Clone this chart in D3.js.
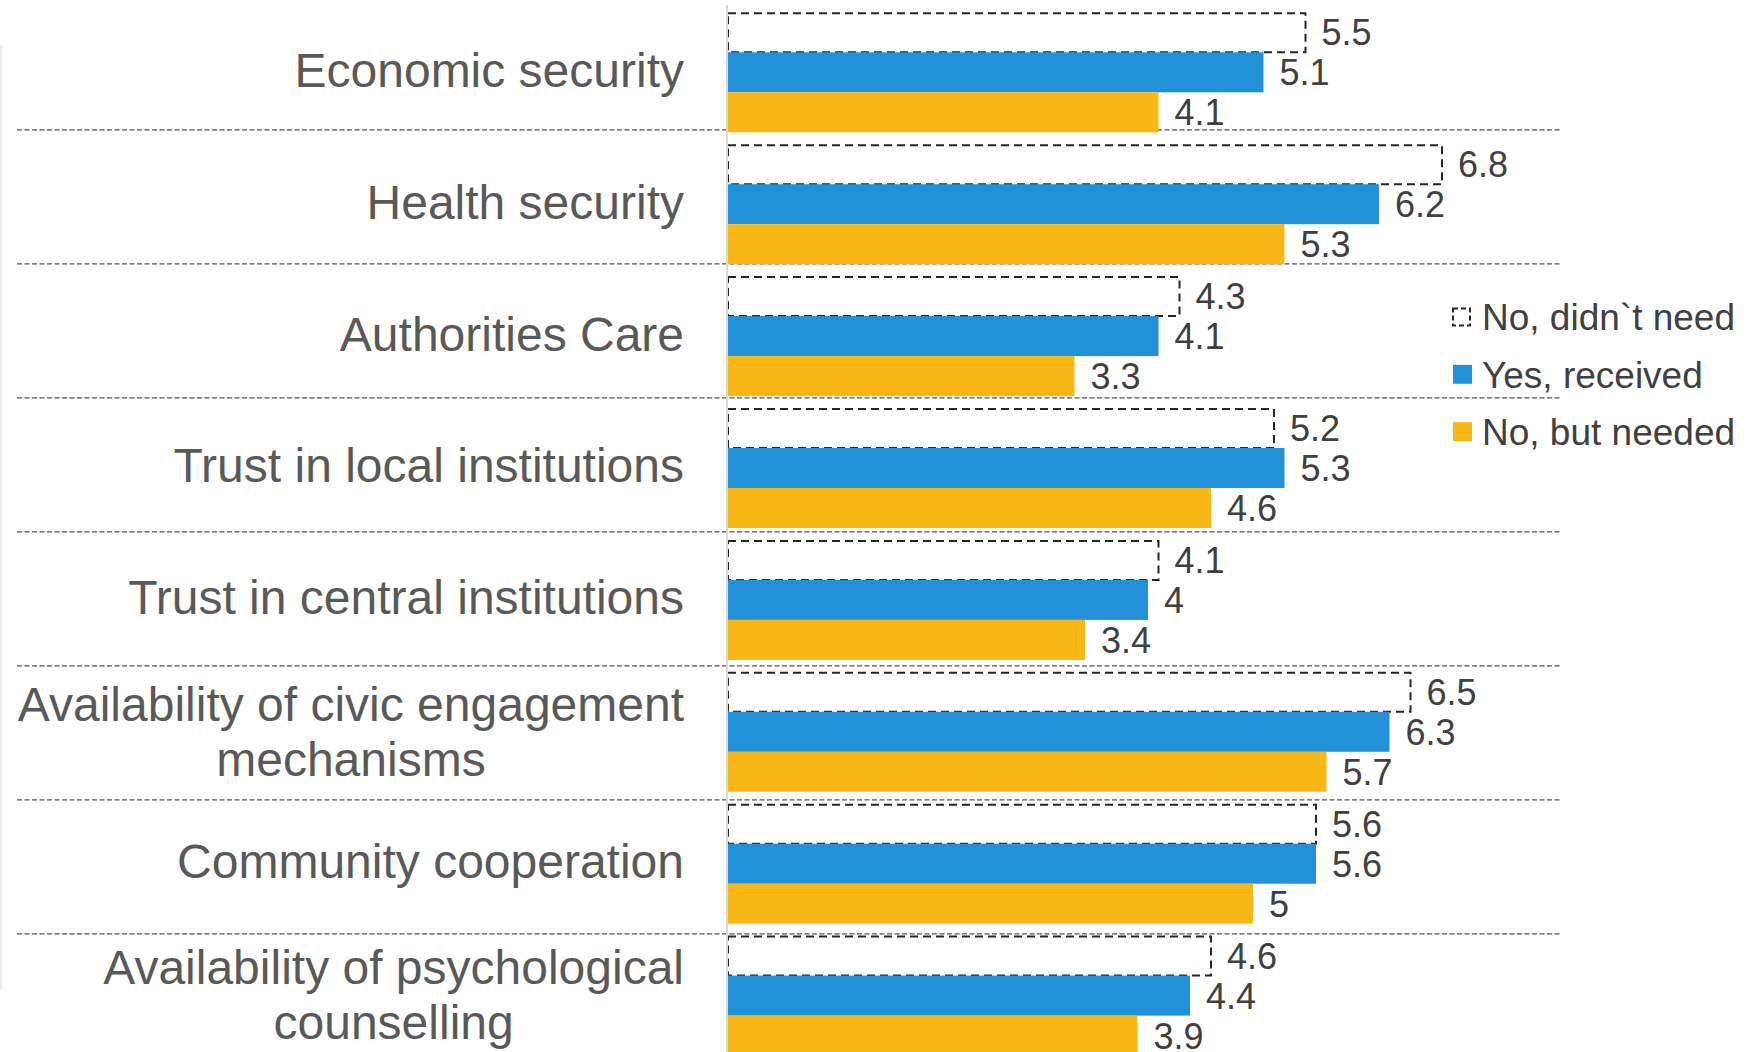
<!DOCTYPE html>
<html>
<head>
<meta charset="utf-8">
<script src="https://cdn.jsdelivr.net/npm/d3@7"></script>
<style>
  html, body { margin: 0; padding: 0; background: #fff; }
  svg { display: block; font-family: "Liberation Sans", Arial, sans-serif; }
</style>
</head>
<body>
<div id="chart"></div>
<script>
var categories = ["Economic security", "Health security", "Authorities Care", "Trust in local institutions",
	"Trust in central institutions", "Availability of civic engagement mechanisms", "Community cooperation",
	"Availability of psychological counselling"];
var labelLines = [["Economic security"], ["Health security"], ["Authorities Care"], ["Trust in local institutions"],
	["Trust in central institutions"], ["Availability of civic engagement", "mechanisms"], ["Community cooperation"],
	["Availability of psychological", "counselling"]];
var seriesNames = ["No, didn`t need", "Yes, received", "No, but needed"];
var didntNeed = [5.5, 6.8, 4.3, 5.2, 4.1, 6.5, 5.6, 4.6];
var received = [5.1, 6.2, 4.1, 5.3, 4, 6.3, 5.6, 4.4];
var butNeeded = [4.1, 5.3, 3.3, 4.6, 3.4, 5.7, 5, 3.9];

var width = 1759, height = 1052;
var colors = {"No, didn`t need": "#ffffff", "Yes, received": "#2391d8", "No, but needed": "#fab818"};
var values = {"No, didn`t need": didntNeed, "Yes, received": received, "No, but needed": butNeeded};

var svg = d3.select("#chart")
			.append("svg")
			.attr("width", width)
			.attr("height", height)
			.attr("viewBox", [0, 0, width, height]);

var x = d3.scaleLinear()
			.domain([0, 8])
			.range([728, 1568]);

var y = d3.scaleBand()
			.domain(categories)
			.range([6.35, 1061.55])
			.paddingInner(0.0902)
			.paddingOuter(0.0451);

var ySub = d3.scaleBand()
			.domain(seriesNames)
			.range([0, y.bandwidth()]);

// the divider lines are hand placed shapes in the original, slightly wider spaced than the bands
var sepY = d3.scaleLinear()
			.domain([1, 7])
			.range([129.8, 933.8]);

// faint frame line on the far left
svg.append("line")
	.attr("x1", 1).attr("x2", 1)
	.attr("y1", 45).attr("y2", 989)
	.attr("stroke", "#ececec")
	.attr("stroke-width", 2.5);

// dashed separators between categories
svg.append("g")
	.selectAll("line")
	.data(d3.range(1, categories.length))
	.join("line")
	.attr("x1", 17)
	.attr("x2", 1562)
	.attr("y1", d => sepY(d))
	.attr("y2", d => sepY(d))
	.attr("stroke", "#555")
	.attr("stroke-width", 1.2)
	.attr("stroke-dasharray", "5,2.5");

var rows = [];
categories.forEach((c, i) => seriesNames.forEach(s => rows.push({cat: c, key: s, value: values[s][i]})));

svg.append("g")
	.selectAll("rect")
	.data(rows)
	.join("rect")
	.attr("x", x(0))
	.attr("y", d => y(d.cat) + ySub(d.key) + (d.key === seriesNames[0] ? 1 : 0))
	.attr("width", d => x(d.value) - x(0))
	.attr("height", d => ySub.bandwidth() - (d.key === seriesNames[0] ? 1 : 0))
	.attr("fill", d => colors[d.key])
	.attr("stroke", d => d.key === seriesNames[0] ? "#262626" : "none")
	.attr("stroke-width", 2)
	.attr("stroke-dasharray", "8,5");

// value labels
svg.append("g")
	.selectAll("text")
	.data(rows)
	.join("text")
	.attr("x", d => x(d.value) + 16)
	.attr("y", d => y(d.cat) + ySub(d.key) + ySub.bandwidth() / 2)
	.attr("dy", "0.36em")
	.attr("font-size", 36)
	.attr("fill", "#404040")
	.text(d => String(d.value));

// vertical axis line
svg.append("line")
	.attr("x1", x(0) - 1).attr("x2", x(0) - 1)
	.attr("y1", 5).attr("y2", height)
	.attr("stroke", "#d9d9d9")
	.attr("stroke-width", 2);

// category labels, multi-line blocks right aligned, lines centred
var labelRight = 684, lineH = 55;
var lab = svg.append("g")
	.selectAll("g")
	.data(categories)
	.join("g");

lab.each(function(c, i) {
	var g = d3.select(this);
	var lines = labelLines[i];
	var cy = y(c) + y.bandwidth() / 2;
	var texts = g.selectAll("text")
		.data(lines)
		.join("text")
		.attr("font-size", 48)
		.attr("fill", "#595959")
		.attr("y", (d, j) => cy + (j - (lines.length - 1) / 2) * lineH)
		.attr("dy", lines.length > 1 ? "0.34em" : "0.3em")
		.text(d => d);
	var maxW = d3.max(texts.nodes(), n => n.getComputedTextLength());
	texts.attr("text-anchor", "middle").attr("x", labelRight - maxW / 2);
});

// legend
var legend = svg.append("g")
	.selectAll("g")
	.data(seriesNames)
	.join("g")
	.attr("transform", (d, i) => `translate(1453,${317 + i * 57.3})`);

legend.append("rect")
	.attr("x", 0)
	.attr("y", d => d === seriesNames[0] ? -8.5 : -9.5)
	.attr("width", d => d === seriesNames[0] ? 17 : 19)
	.attr("height", d => d === seriesNames[0] ? 17 : 19)
	.attr("fill", d => colors[d])
	.attr("stroke", d => d === seriesNames[0] ? "#262626" : "none")
	.attr("stroke-width", 2)
	.attr("stroke-dasharray", "5,3");

legend.append("text")
	.attr("x", 29)
	.attr("dy", "0.36em")
	.attr("font-size", 37)
	.attr("fill", "#404040")
	.text(d => d);
</script>
</body>
</html>
